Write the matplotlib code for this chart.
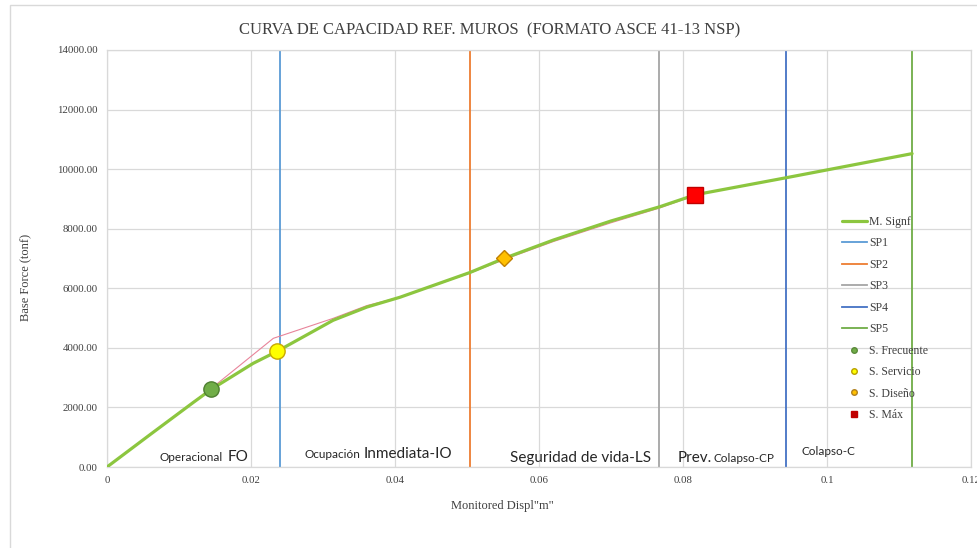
import matplotlib
matplotlib.use("Agg")
import matplotlib.pyplot as plt
from matplotlib.lines import Line2D
from matplotlib.patches import Rectangle

# capacity curve (M. Signf)
curve_x = [0, 0.006, 0.012, 0.0145, 0.0203, 0.0236, 0.0314, 0.0361, 0.0407, 0.0504,
           0.0551, 0.062, 0.070, 0.0768, 0.0817, 0.0944, 0.1118]
curve_y = [0, 1090, 2170, 2610, 3480, 3880, 4925, 5370, 5700, 6530,
           7000, 7620, 8260, 8740, 9140, 9715, 10520]

# thin reference curve
ref_x = [0, 0.0145, 0.0231, 0.0314, 0.0361, 0.0407, 0.0504, 0.0551, 0.062, 0.070, 0.0768, 0.0817]
ref_y = [0, 2640, 4320, 4990, 5420, 5700, 6510, 6960, 7570, 8200, 8700, 9120]

# performance limits
sp_names = ["SP1", "SP2", "SP3", "SP4", "SP5"]
sp_x = [0.0240, 0.0504, 0.0767, 0.0943, 0.1118]
sp_colors = ["#5B9BD5", "#ED7D31", "#A5A5A5", "#4472C4", "#70AD47"]

# performance points
pt_names = ["S. Frecuente", "S. Servicio", "S. Diseño", "S. Máx"]
pt_x = [0.0144, 0.0236, 0.0551, 0.0817]
pt_y = [2615, 3885, 7010, 9145]

x_ticks = [0, 0.02, 0.04, 0.06, 0.08, 0.1, 0.12]
x_tick_labels = ["0", "0.02", "0.04", "0.06", "0.08", "0.1", "0.12"]
y_ticks = [0, 2000, 4000, 6000, 8000, 10000, 12000, 14000]

serif = "Liberation Serif"
sans = "Lato"

fig = plt.figure(figsize=(9.77, 5.48), dpi=100)
ax = fig.add_axes([0.1095, 0.1478, 0.8845, 0.7610])

fig.patches.append(Rectangle((10 / 977, -0.02), 1.0, 1 - 5 / 548 + 0.02,
                             transform=fig.transFigure, fill=False,
                             edgecolor="#D9D9D9", linewidth=1.0))

ax.set_xlim(0, 0.12)
ax.set_ylim(0, 14000)
ax.set_xticks(x_ticks)
ax.set_xticklabels(x_tick_labels)
ax.set_yticks(y_ticks)
ax.set_yticklabels(["%.2f" % v for v in y_ticks])
ax.grid(True, color="#D9D9D9", linewidth=0.9)
ax.set_axisbelow(True)
ax.tick_params(length=0, labelsize=7.8, colors="#404040", pad=6.5)
for lab in ax.get_xticklabels() + ax.get_yticklabels():
    lab.set_fontfamily(serif)
for s in ax.spines.values():
    s.set_color("#D9D9D9")
    s.set_linewidth(0.9)

handles = []
main_line, = ax.plot(curve_x, curve_y, color="#8CC63F", linewidth=2.3, zorder=4,
                     solid_capstyle="round", label="M. Signf")
ax.plot(ref_x, ref_y, color="#E8849A", linewidth=0.8, zorder=3)
handles.append(main_line)

for name, xv, c in zip(sp_names, sp_x, sp_colors):
    ln = ax.axvline(xv, color=c, linewidth=1.3, zorder=2, label=name)
    handles.append(ln)

ax.plot(pt_x[0], pt_y[0], "o", markersize=11, markerfacecolor="#70AD47",
        markeredgecolor="#4E7F30", zorder=5)
ax.plot(pt_x[1], pt_y[1], "o", markersize=11, markerfacecolor="#FFFF00",
        markeredgecolor="#C9A800", zorder=5)
ax.plot(pt_x[2], pt_y[2], "D", markersize=8, markerfacecolor="#FFC000",
        markeredgecolor="#C08000", zorder=5)
ax.plot(pt_x[3], pt_y[3], "s", markersize=11, markerfacecolor="#FF0000",
        markeredgecolor="#C00000", zorder=5)

handles.append(Line2D([], [], linestyle="none", marker="o", markersize=4,
                      markerfacecolor="#70AD47", markeredgecolor="#5A8A3A", label=pt_names[0]))
handles.append(Line2D([], [], linestyle="none", marker="o", markersize=4,
                      markerfacecolor="#FFFF00", markeredgecolor="#B8A000", label=pt_names[1]))
handles.append(Line2D([], [], linestyle="none", marker="o", markersize=4,
                      markerfacecolor="#FFC000", markeredgecolor="#B08020", label=pt_names[2]))
handles.append(Line2D([], [], linestyle="none", marker="s", markersize=4,
                      markerfacecolor="#C00000", markeredgecolor="#C00000", label=pt_names[3]))

leg = ax.legend(handles=handles, loc="upper left", bbox_to_anchor=(842 / 977, 1 - 216 / 548),
                bbox_transform=fig.transFigure, frameon=False,
                prop={"family": serif, "size": 8.5}, handlelength=2.1,
                handletextpad=0.2, labelspacing=0.8, borderpad=0, borderaxespad=0)
for t in leg.get_texts():
    t.set_color("#404040")

# zone labels: (text, x, baseline y, size)
zone_labels = [
    ("Operacional", 0.00736, 218, 8.5),
    ("FO", 0.0168, 218, 11),
    ("Ocupación", 0.0274, 312, 8.5),
    ("Inmediata-IO", 0.0357, 312, 11),
    ("Seguridad de vida-LS", 0.0560, 168, 11),
    ("Prev.", 0.0792, 184, 11),
    ("Colapso-CP", 0.0842, 184, 8.5),
    ("Colapso-C", 0.0965, 402, 8.5),
]
for txt, xv, yv, sz in zone_labels:
    ax.text(xv, yv, txt, fontsize=sz, family=sans, color="#262626",
            ha="left", va="baseline", zorder=6)

fig.text(490 / 977, 1 - 30 / 548, "CURVA DE CAPACIDAD REF. MUROS  (FORMATO ASCE 41-13 NSP)",
         ha="center", va="center", fontsize=12, family=serif, color="#404040")
fig.text(26 / 977, 1 - 277 / 548, "Base Force (tonf)", rotation=90, ha="center",
         va="center", fontsize=9, family=serif, color="#404040")
fig.text(502 / 977, 1 - 506 / 548, "Monitored Displ\"m\"", ha="center", va="center",
         fontsize=9, family=serif, color="#404040")

fig.savefig("out.png", dpi=100)
